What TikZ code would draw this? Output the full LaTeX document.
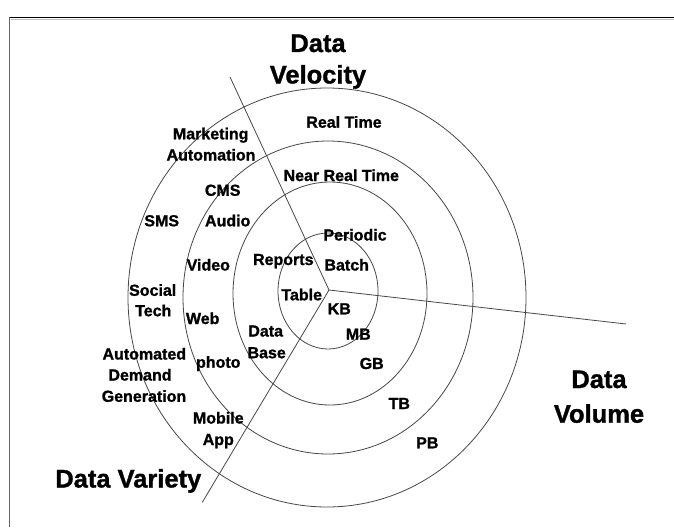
\documentclass[tikz,border=0pt]{standalone}
\usepackage{fontspec}
\setmainfont{Liberation Sans}
\newfontfamily\heavyfont[FakeBold=1.2]{Liberation Sans Bold}
\begin{document}
\begin{tikzpicture}[x=1pt,y=-1pt]
\tikzset{
  lbl/.style={font=\heavyfont\fontsize{16}{19}\selectfont, anchor=base, inner sep=0pt},
  ttl/.style={font=\heavyfont\fontsize{25.5}{30}\selectfont, anchor=base, inner sep=0pt},
  ring/.style={draw=black!72, line width=0.8pt},
  axis/.style={draw=black!72, line width=0.8pt},
  frame/.style={draw=black, line width=1.2pt}
}
\useasboundingbox[fill=white] (0,0) rectangle (674,527);
% frame (top and left edges visible)
\coordinate (ftl) at (9.5,17.5);
\coordinate (ftr) at (674,17.5);
\coordinate (fbl) at (9.5,527);
\draw[frame] (ftr) -- (ftl);
\draw[draw=black!60, line width=0.9pt] (ftl) -- (fbl);
\draw[draw=black!25, line width=0.8pt] (10.5,19.2) -- (674,19.2);

% rings
\draw[ring] (328,291) ellipse [x radius=50pt, y radius=58pt];
\draw[ring] (330,293.5) ellipse [x radius=97pt, y radius=111.5pt];
\draw[ring] (328,297.5) ellipse [x radius=145pt, y radius=156.5pt];
\draw[ring] (327,297.5) ellipse [x radius=199pt, y radius=209.5pt];

% axes
\coordinate (c) at (329,290);
\coordinate (vel) at (230,77);
\coordinate (vol) at (626,324);
\coordinate (var) at (202.3,502.3);
\draw[axis] (vel) -- (c);
\draw[axis] (c) -- (vol);
\draw[axis] (c) -- (var);

% titles
\node[ttl] (t1a) at (318,52) {Data};
\node[ttl] (t1b) at (318,83.5) {Velocity};
\node[ttl] (t2a) at (599,388) {Data};
\node[ttl] (t2b) at (599,422.7) {Volume};
\node[ttl] (t3) at (128.3,487.5) {Data Variety};

% velocity labels
\node[lbl] (realtime) at (344,127.7) {Real Time};
\node[lbl] (nrt) at (341.3,181) {Near Real Time};
\node[lbl] (periodic) at (355,240.5) {Periodic};
\node[lbl] (batch) at (346.7,270.5) {Batch};

% volume labels
\node[lbl] (kb) at (339.3,314.3) {KB};
\node[lbl] (mb) at (358.3,339.7) {MB};
\node[lbl] (gb) at (371.7,369) {GB};
\node[lbl] (tb) at (399.3,409) {TB};
\node[lbl] (pb) at (427.3,448.3) {PB};

% variety labels
\node[lbl] (mkt1) at (210.7,139.3) {Marketing};
\node[lbl] (mkt2) at (211,160.5) {Automation};
\node[lbl] (cms) at (222.7,195.8) {CMS};
\node[lbl] (sms) at (161.7,226.3) {SMS};
\node[lbl] (audio) at (227.7,226.3) {Audio};
\node[lbl] (reports) at (283.3,265) {Reports};
\node[lbl] (video) at (208.3,270.5) {Video};
\node[lbl] (social) at (152.7,295.8) {Social};
\node[lbl] (tech) at (153.3,316.2) {Tech};
\node[lbl] (table) at (301.7,300.3) {Table};
\node[lbl] (web) at (202.7,324) {Web};
\node[lbl] (db1) at (265.7,336.5) {Data};
\node[lbl] (db2) at (266.7,358.2) {Base};
\node[lbl] (adg1) at (144.3,359.5) {Automated};
\node[lbl] (photo) at (218.3,367.7) {photo};
\node[lbl] (adg2) at (140,380.5) {Demand};
\node[lbl] (adg3) at (144,401.8) {Generation};
\node[lbl] (mob1) at (218.3,423.5) {Mobile};
\node[lbl] (mob2) at (218.3,445) {App};
\end{tikzpicture}
\end{document}
